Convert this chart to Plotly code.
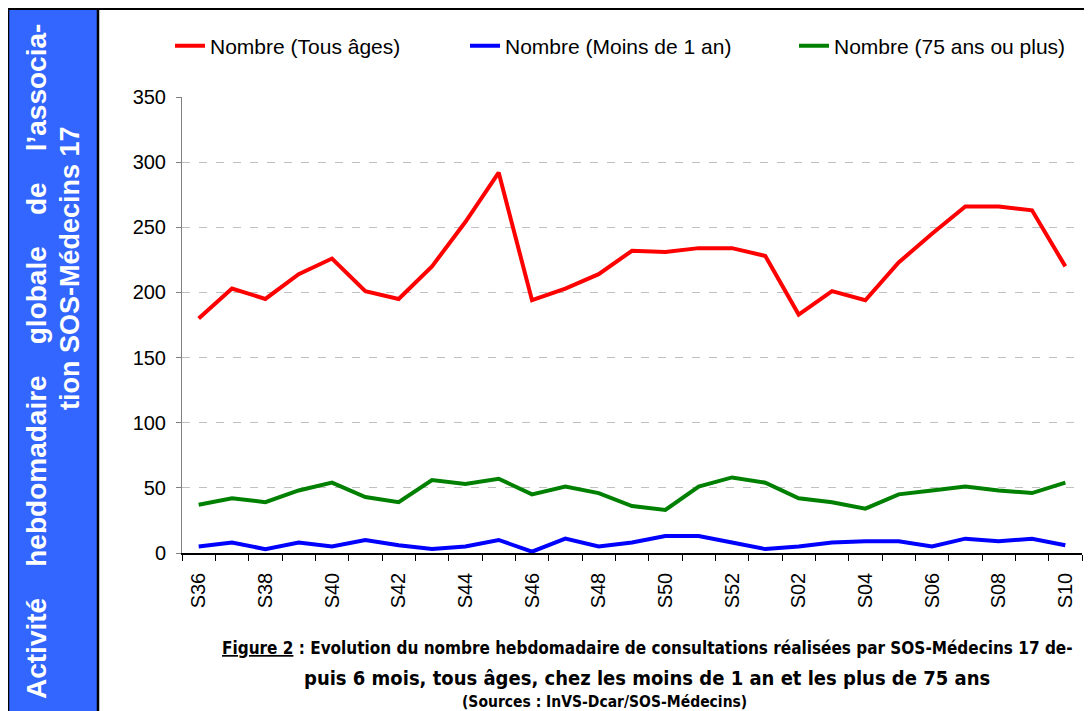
import plotly.graph_objects as go

weeks = ["S36", "S37", "S38", "S39", "S40", "S41", "S42", "S43", "S44", "S45",
         "S46", "S47", "S48", "S49", "S50", "S51", "S52", "S01", "S02", "S03",
         "S04", "S05", "S06", "S07", "S08", "S09", "S10"]
tous_ages = [180, 203, 195, 214, 226, 201, 195, 220, 254, 292,
             194, 203, 214, 232, 231, 234, 234, 228, 183, 201,
             194, 223, 245, 266, 266, 263, 220]
moins_1an = [5, 8, 3, 8, 5, 10, 6, 3, 5, 10,
             1, 11, 5, 8, 13, 13, 8, 3, 5, 8,
             9, 9, 5, 11, 9, 11, 6]
plus_75 = [37, 42, 39, 48, 54, 43, 39, 56, 53, 57,
           45, 51, 46, 36, 33, 51, 58, 54, 42, 39,
           34, 45, 48, 51, 48, 46, 54]
y_ticks = [0, 50, 100, 150, 200, 250, 300, 350]

series = [
    ("Nombre (Tous âges)", tous_ages, "#FF0000", "legend"),
    ("Nombre (Moins de 1 an)", moins_1an, "#0000FF", "legend2"),
    ("Nombre (75 ans ou plus)", plus_75, "#008000", "legend3"),
]

idx = list(range(len(weeks)))

# page has an 8px body margin: figure occupies page pixels 8..1092 / 8..711
OFF = 8
W, H = 1092 - OFF, 711 - OFF
L, R, T, B = 182 - OFF, 10, 97 - OFF, 158
PW, PH = W - L - R, H - T - B


def px(x):
    """page pixel x -> paper fraction"""
    return (x - OFF - L) / PW


def py(y):
    """page pixel y -> paper fraction"""
    return (H - B - (y - OFF)) / PH


fig = go.Figure()
for name, vals, col, leg in series:
    fig.add_trace(go.Scatter(x=idx, y=vals, name=name, mode="lines",
                             line=dict(color=col, width=4), legend=leg))

label_idx = idx[::2]
fig.update_xaxes(
    range=[-0.5, len(weeks) - 0.5],
    tickmode="array", tickvals=label_idx, ticktext=[weeks[i] for i in label_idx],
    tickangle=-90, ticks="", showgrid=False, zeroline=False,
    showline=True, linecolor="black", linewidth=1.5,
    tickfont=dict(family="Liberation Sans, Arial", size=20, color="black"),
    ticklabelstandoff=10,
    minor=dict(tickmode="array", tickvals=[i - 0.5 for i in range(len(weeks) + 1)],
               ticks="outside", ticklen=6, tickcolor="black", tickwidth=1,
               showgrid=False),
)
fig.update_yaxes(
    range=[0, 350], tickmode="array", tickvals=y_ticks,
    showgrid=True, gridcolor="#C0C0C0", griddash="8px,9px", gridwidth=1,
    zeroline=False, showline=True, linecolor="#808080", linewidth=1,
    ticks="outside", ticklen=5, tickcolor="#808080",
    tickfont=dict(family="Liberation Sans, Arial", size=20, color="black"),
    ticklabelstandoff=6,
)

shapes = [
    dict(type="rect", xref="paper", yref="paper",
         x0=px(8), x1=px(98), y0=py(730), y1=py(8.5),
         fillcolor="#3366FF", line=dict(color="black", width=2.5), layer="below"),
    dict(type="line", xref="paper", yref="paper",
         x0=px(7), x1=px(1100), y0=py(8.5), y1=py(8.5),
         line=dict(color="black", width=3)),
]

cap_font = dict(family="DejaVu Sans Condensed, Liberation Sans Narrow, Arial Narrow, sans-serif",
                size=17, color="black", weight="bold")
side_font = dict(family="Liberation Sans, Arial", size=28, color="white", weight="bold")
gap = "\u00a0" * 4
annotations = [
    dict(text=gap.join(["Activité", "hebdomadaire", "globale", "de", "l\u2019associa-"]),
         x=px(36), y=py(362), xref="paper", yref="paper", showarrow=False,
         textangle=-90, xanchor="center", yanchor="middle", font=side_font),
    dict(text="tion SOS-Médecins 17",
         x=px(70), y=py(268), xref="paper", yref="paper", showarrow=False,
         textangle=-90, xanchor="center", yanchor="middle",
         font=dict(side_font, size=27)),
    dict(text="<u>Figure 2</u> : Evolution du nombre hebdomadaire de consultations réalisées par SOS-Médecins 17 de-",
         x=px(647), y=py(648), xref="paper", yref="paper", showarrow=False,
         xanchor="center", yanchor="middle", font=cap_font),
    dict(text="puis 6 mois, tous âges, chez les moins de 1 an et les plus de 75 ans",
         x=px(647), y=py(678), xref="paper", yref="paper", showarrow=False,
         xanchor="center", yanchor="middle", font=dict(cap_font, size=20)),
    dict(text="(Sources : InVS-Dcar/SOS-Médecins)",
         x=px(604), y=py(702), xref="paper", yref="paper", showarrow=False,
         xanchor="center", yanchor="middle",
         font=dict(cap_font, size=15.5)),
]

leg_common = dict(orientation="h", xanchor="left", yanchor="middle",
                  font=dict(family="Liberation Sans, Arial", size=21, color="black"),
                  bgcolor="rgba(0,0,0,0)", borderwidth=0, itemwidth=30)

fig.update_layout(
    width=W, height=H,
    margin=dict(l=L, r=R, t=T, b=B, autoexpand=False),
    paper_bgcolor="white", plot_bgcolor="white",
    showlegend=True,
    legend=dict(leg_common, x=px(170), y=py(46)),
    legend2=dict(leg_common, x=px(465), y=py(46)),
    legend3=dict(leg_common, x=px(794), y=py(46)),
    shapes=shapes,
    annotations=annotations,
)

fig.write_html("out.html")
